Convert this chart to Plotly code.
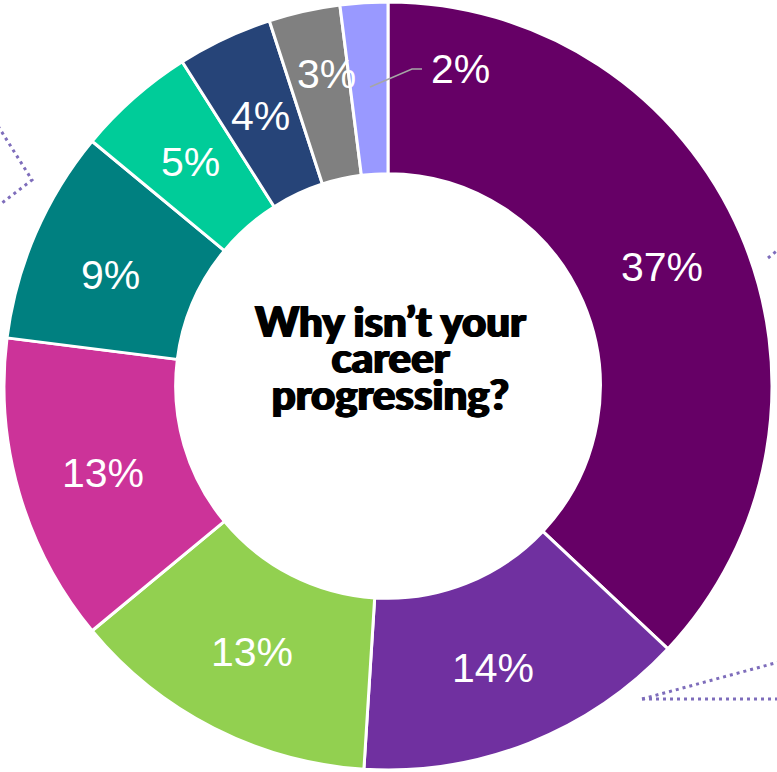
import math
import plotly.graph_objects as go

# Survey shares (percent), clockwise from 12 o'clock
shares = [37, 14, 13, 13, 9, 5, 4, 3, 2]
slice_colors = ["#660066", "#7030A0", "#92D050", "#CC3399", "#008080",
                "#00CC99", "#264478", "#808080", "#9999FF"]
slice_names = ["Reason 1", "Reason 2", "Reason 3", "Reason 4", "Reason 5",
               "Reason 6", "Reason 7", "Reason 8", "Reason 9"]
center_lines = ["Why isn’t your", "career", "progressing?"]

W, H = 777, 772
CX, CY, R = 388, 386, 384          # pie centre and outer radius in px
HOLE = 0.553

def px(x):
    return x / W

def py(y):
    return 1 - y / H

fig = go.Figure(go.Pie(
    values=shares,
    labels=slice_names,
    marker=dict(colors=slice_colors, line=dict(color="white", width=3)),
    hole=HOLE,
    sort=False,
    direction="clockwise",
    rotation=0,
    textinfo="none",
    hoverinfo="label+percent",
    showlegend=False,
    domain=dict(x=[px(CX - R), px(CX + R)], y=[py(CY + R), py(CY - R)]),
))

annotations = []
label_font = dict(family="Liberation Sans, Arial, sans-serif", size=41, color="white")
# small nudges (px) for crowded labels
nudge = {1: (-5, 4), 3: (2, 4), 4: (-3, 8), 7: (4, -20)}
total = sum(shares)
cum = 0
for i, v in enumerate(shares):
    mid = (cum + v / 2) / total * 2 * math.pi
    cum += v
    if i == len(shares) - 1:
        continue
    r = 0.778 * R
    x = CX + r * math.sin(mid)
    y = CY - r * math.cos(mid)
    dx, dy = nudge.get(i, (0, 0))
    annotations.append(dict(
        x=px(x + dx), y=py(y + dy), xref="paper", yref="paper",
        text=f"{v}%", showarrow=False, font=label_font,
        xanchor="center", yanchor="middle"))

# smallest slice: label moved outward onto the largest slice, with a leader line
annotations.append(dict(
    x=px(460), y=py(69), xref="paper", yref="paper",
    text=f"{shares[-1]}%", showarrow=False, font=label_font,
    xanchor="center", yanchor="middle"))

# centre title: tight leading comes from the small base size, glyphs are set larger
title_text = "<br>".join(
    f'<span style="font-size:42px">{line}</span>' for line in center_lines)
annotations.append(dict(
    x=px(CX + 2), y=py(357), xref="paper", yref="paper",
    text=title_text, showarrow=False,
    font=dict(family="Lato, Roboto, sans-serif", size=28, color="black", weight=900,
              shadow="1px 0 0 #000, -1px 0 0 #000"),
    xanchor="center", yanchor="middle", align="center"))

shapes = []
# leader line for the 2% label
shapes.append(dict(type="path", xref="paper", yref="paper",
                   path=f"M {px(370)},{py(87)} L {px(412)},{py(69)} L {px(422)},{py(69)}",
                   line=dict(color="#A6A6A6", width=1.5)))

# dotted connectors running off the edges of the canvas
dot = dict(color="#7E6DBB", width=3, dash="3px,4px")
shapes.append(dict(type="path", xref="paper", yref="paper",
                   path=f"M {px(-2)},{py(126)} L {px(32)},{py(180)} L {px(-2)},{py(206)}",
                   line=dot))
shapes.append(dict(type="path", xref="paper", yref="paper",
                   path=f"M {px(642)},{py(699)} L {px(779)},{py(662)}",
                   line=dot))
shapes.append(dict(type="path", xref="paper", yref="paper",
                   path=f"M {px(642)},{py(699)} L {px(779)},{py(699)}",
                   line=dot))
shapes.append(dict(type="path", xref="paper", yref="paper",
                   path=f"M {px(768)},{py(258)} L {px(779)},{py(249)}",
                   line=dot))

fig.update_layout(
    width=W, height=H,
    margin=dict(l=0, r=0, t=0, b=0),
    paper_bgcolor="white",
    plot_bgcolor="white",
    annotations=annotations,
    shapes=shapes,
)

fig.write_html("out.html")
